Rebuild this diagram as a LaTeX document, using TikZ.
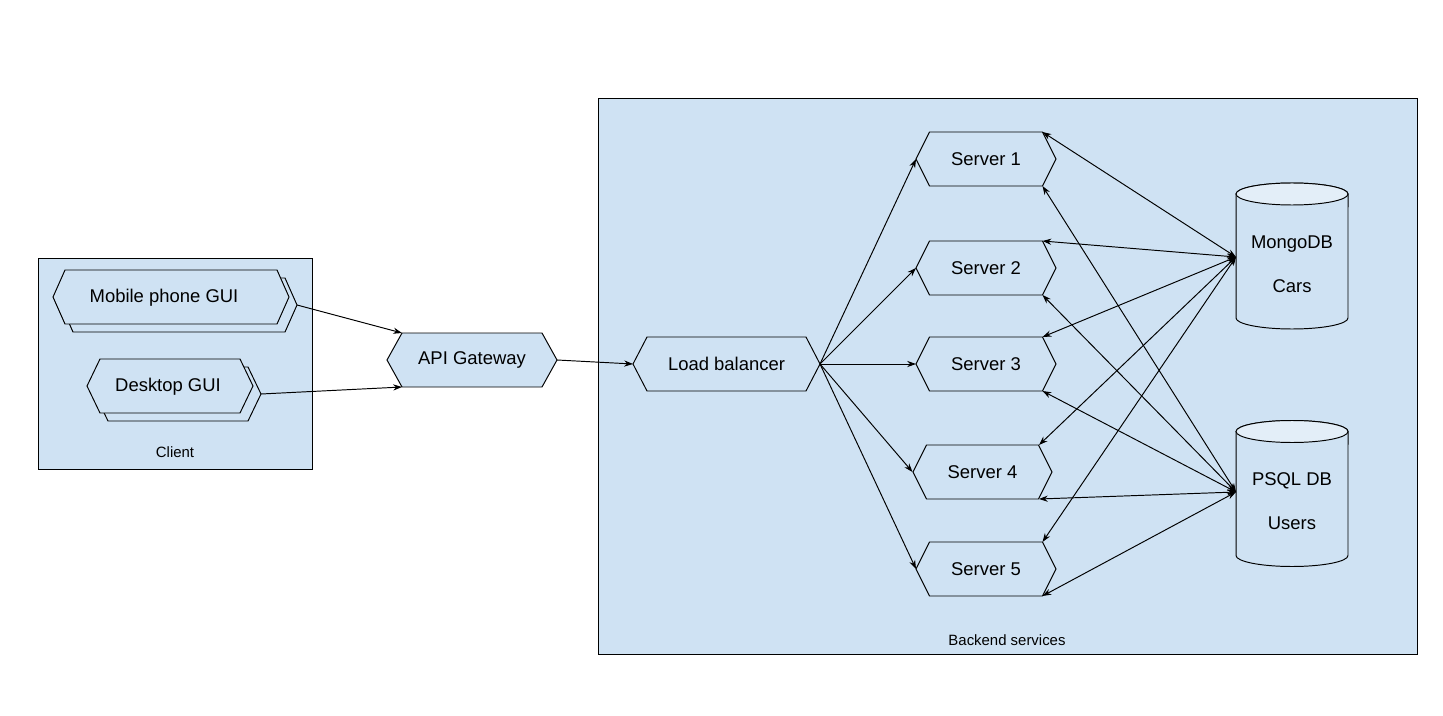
\documentclass[tikz,border=0pt]{standalone}
\usepackage{fontspec}
\setmainfont{Liberation Sans}
\usetikzlibrary{calc,arrows.meta}
\pgfdeclarelayer{boxes}\pgfdeclarelayer{shapes}
\pgfsetlayers{boxes,shapes,main}
\definecolor{paleblue}{HTML}{CFE2F3}
\definecolor{capblue}{HTML}{E3EEF8}
% hexagon round a node: name, half width, indent
\newcommand\hexaround[3]{($(#1)+(-#2,0)$) -- ($(#1)+(-#2+#3,27)$) -- ($(#1)+(#2-#3,27)$)
  -- ($(#1)+(#2,0)$) -- ($(#1)+(#2-#3,-27)$) -- ($(#1)+(-#2+#3,-27)$) -- cycle}
\tikzset{
  lbl/.style={font=\fontsize{10.5}{12}\selectfont, inner sep=0pt},
  caption/.style={font=\fontsize{8.5}{10}\selectfont, inner sep=0pt},
  outline/.style={draw=black, line width=0.55pt, fill=paleblue},
  link/.style={-{Stealth[length=5pt,width=3.5pt]}, line width=0.55pt},
  duplex/.style={{Stealth[length=5pt,width=3.5pt]}-{Stealth[length=5pt,width=3.5pt]}, line width=0.55pt},
}
\begin{document}
\begin{tikzpicture}[x=0.02cm,y=0.02cm]
  \useasboundingbox (0,0) rectangle (1443,-716);

  % containers
  \begin{pgfonlayer}{boxes}
    \draw[outline] (38,-258) rectangle (312,-469);
    \draw[outline] (598,-98) rectangle (1417,-654);
  \end{pgfonlayer}
  \node[caption] (client) at (175,-452) {Client};
  \node[caption] (backend) at (1007,-640) {Backend services};

  % text nodes
  \node[lbl] (mobile) at (164,-298) {Mobile phone GUI};
  \node[lbl] (desktop) at (168,-387) {Desktop GUI};
  \node[lbl] (api) at (472,-360) {API Gateway};
  \node[lbl] (lb) at (726.5,-364) {Load balancer};
  \foreach \i/\x/\y in {1/986/159,2/986/268,3/986/364,4/982.5/472,5/986/569}
    \node[lbl] (s\i) at (\x,-\y) {Server \i};
  \node[lbl,align=center] (mongo) at (1292,-264) {MongoDB\\[13pt]Cars};
  \node[lbl,align=center] (psql) at (1292,-501.5) {PSQL DB\\[13pt]Users};

  % shapes behind the text
  \begin{pgfonlayer}{shapes}
    \coordinate (mobile-c) at (171,-297); \coordinate (desktop-c) at (170,-386);
    \draw[outline] ([shift={(8,-8)}]mobile-c) coordinate (mobile-b) \hexaround{mobile-b}{118}{12};
    \draw[outline] \hexaround{mobile-c}{118}{12};
    \draw[outline] ([shift={(8,-8)}]desktop-c) coordinate (desktop-b) \hexaround{desktop-b}{83}{13};
    \draw[outline] \hexaround{desktop-c}{83}{13};
    \draw[outline] \hexaround{api}{85}{15};
    \draw[outline] \hexaround{lb}{93.5}{14};
    \foreach \s in {s1,s2,s3,s5} \draw[outline] \hexaround{\s}{70}{13.5};
    \draw[outline] \hexaround{s4}{69.5}{13.5};
    \foreach \db in {mongo,psql} {
      \draw[outline] ($(\db)+(-56,70)$) -- ($(\db)+(-56,-54)$)
        arc[start angle=180,end angle=360,x radius=1.12cm,y radius=0.22cm]
        -- ($(\db)+(56,70)$)
        arc[start angle=0,end angle=180,x radius=1.12cm,y radius=0.22cm] -- cycle;
      \draw[outline,fill=capblue] ($(\db)+(0,70)$) ellipse[x radius=1.12cm,y radius=0.22cm];
    }
  \end{pgfonlayer}

  % connectors
  \draw[link] ($(mobile-b)+(118,0)$) -- ($(api)+(-70,27)$);
  \draw[link] ($(desktop-b)+(83,0)$) -- ($(api)+(-70,-27)$);
  \draw[link] ($(api)+(85,0)$) -- ($(lb)+(-93.5,0)$);
  \foreach \s in {s1,s2,s3,s4,s5} {
    \draw[link] ($(lb)+(93.5,0)$) -- ($(\s)+(-70,0)$);
    \draw[duplex] ($(mongo)+(-56,7)$) -- ($(\s)+(56.5,27)$);
    \draw[duplex] ($(psql)+(-56,9.5)$) -- ($(\s)+(56.5,-27)$);
  }
\end{tikzpicture}
\end{document}
